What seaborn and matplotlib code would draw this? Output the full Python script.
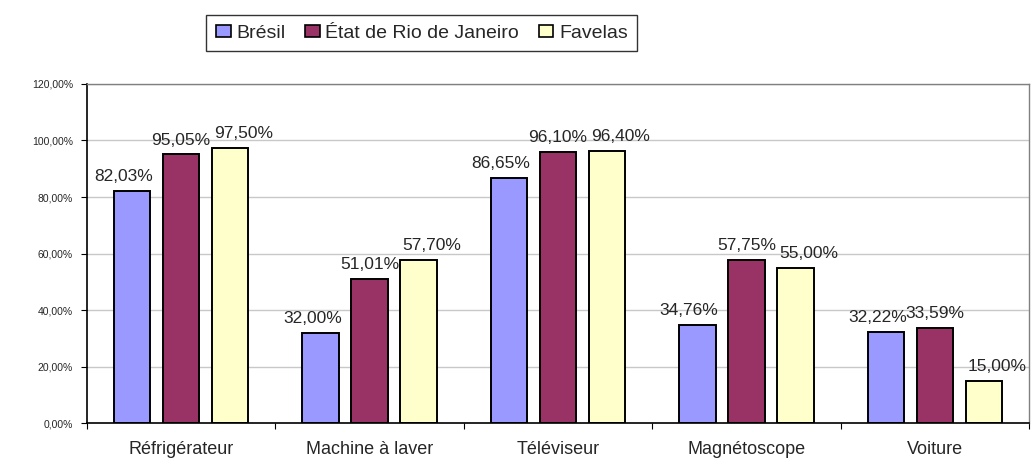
import pandas as pd
import matplotlib
matplotlib.use('Agg')
import matplotlib.pyplot as plt
import seaborn as sns

# ==========================================
# 数据
# ==========================================
categories = ['Réfrigérateur', 'Machine à laver', 'Téléviseur', 'Magnétoscope', 'Voiture']
series_names = ['Brésil', 'État de Rio de Janeiro', 'Favelas']
bresil = [82.03, 32.00, 86.65, 34.76, 32.22]
rio = [95.05, 51.01, 96.10, 57.75, 33.59]
favelas = [97.50, 57.70, 96.40, 55.00, 15.00]
y_ticks = [0, 20, 40, 60, 80, 100, 120]

colors = ['#9999FF', '#993366', '#FFFFCC']
# décalage horizontal des étiquettes (points), par série
label_dx = [-6, 0, 9.5]

rows = []
for name, vals in zip(series_names, [bresil, rio, favelas]):
    for cat, v in zip(categories, vals):
        rows.append({'cat': cat, 'serie': name, 'val': v})
df = pd.DataFrame(rows)

sns.set_theme(style='white')
plt.rcParams['font.family'] = ['Liberation Sans', 'DejaVu Sans']

fig = plt.figure(figsize=(10.34, 4.59), dpi=100)
ax = fig.add_axes([0.0841, 0.0784, 0.9111, 0.7386])

sns.barplot(data=df, x='cat', y='val', hue='serie', hue_order=series_names,
            order=categories, palette=colors, saturation=1, width=0.78, gap=0.26,
            edgecolor='black', linewidth=1.4, ax=ax, legend=True)

# étiquettes de données
for cont, dx in zip(ax.containers, label_dx):
    for b in cont:
        h = b.get_height()
        ax.annotate(f"{h:.2f}%".replace('.', ','),
                    (b.get_x() + b.get_width() / 2, h),
                    xytext=(dx, 5), textcoords='offset points',
                    ha='center', va='bottom', fontsize=12.5)

# axes
ax.set_ylim(0, 120)
ax.set_xlim(-0.5, len(categories) - 0.5)
ax.set_yticks(y_ticks)
ax.set_yticklabels([f"{t},00%" for t in y_ticks], fontsize=7.5)
ax.set_xlabel('')
ax.set_ylabel('')
ax.set_xticks(range(len(categories)))
ax.set_xticklabels(categories, fontsize=13)
ax.tick_params(axis='x', length=0, pad=13)
ax.set_xticks([i - 0.5 for i in range(len(categories) + 1)], minor=True)
ax.tick_params(axis='x', which='minor', length=4, direction='out', color='black', width=0.8, bottom=True)
ax.tick_params(axis='y', length=4, direction='out', color='black', width=0.8, left=True, pad=6)

ax.yaxis.grid(True, color='#c8c8c8', linewidth=1)
ax.set_axisbelow(True)
for side in ['top', 'right']:
    ax.spines[side].set_color('#808080')
    ax.spines[side].set_linewidth(1)
for side in ['left', 'bottom']:
    ax.spines[side].set_color('black')
    ax.spines[side].set_linewidth(1.2)

# légende
handles, labels = ax.get_legend_handles_labels()
ax.legend_.remove()
leg = fig.legend(handles, labels, loc='center', bbox_to_anchor=(0.408, 0.928),
                 ncol=3, fontsize=14, frameon=True, fancybox=False,
                 edgecolor='black', handlelength=0.75, handleheight=0.6,
                 handletextpad=0.3, columnspacing=1.0, borderpad=0.5,
                 borderaxespad=0)
leg.get_frame().set_linewidth(1)
for h in leg.legend_handles:
    h.set_edgecolor('black')
    h.set_linewidth(1.2)

fig.savefig('out.png', dpi=100)
